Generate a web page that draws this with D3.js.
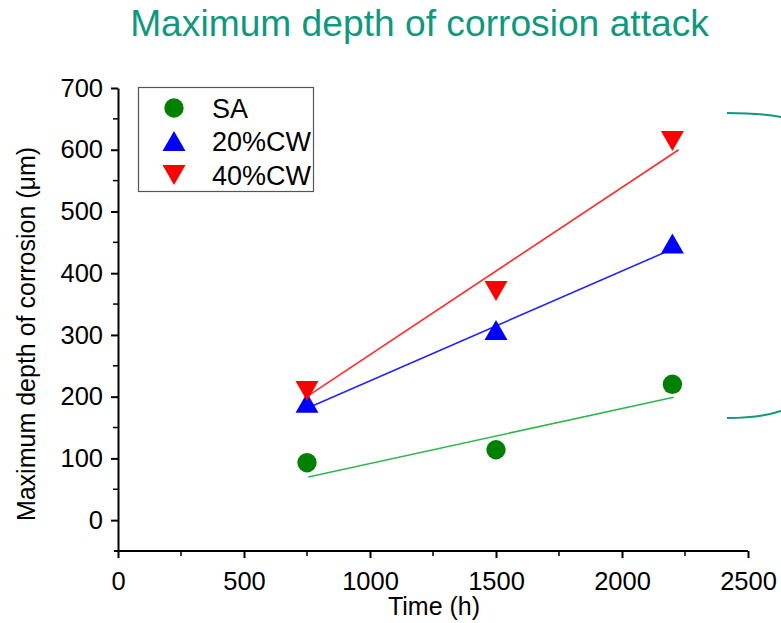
<!DOCTYPE html>
<html>
<head>
<meta charset="utf-8">
<script src="https://cdn.jsdelivr.net/npm/d3@7"></script>
<style>
  html, body { margin: 0; padding: 0; background: #ffffff; }
  svg { display: block; font-family: Arial, "Liberation Sans", sans-serif; }
</style>
</head>
<body>
<svg id="chart" width="781" height="623"></svg>
<script>
// Exposure times (h)
const times = [750, 1500, 2200];

// Measured maximum corrosion depth (µm) per material condition
const saDepth = [93, 114, 220];
const cw20Depth = [190, 308, 448];
const cw40Depth = [209, 371, 614];

// Linear trend lines: [startTime, endTime] and [startDepth, endDepth]
const saFitTime = [755, 2205];
const saFitDepth = [70, 199];
const cw20FitTime = [755, 2205];
const cw20FitDepth = [182, 440];
const cw40FitTime = [760, 2225];
const cw40FitDepth = [203, 600];

// Axis ticks
const xTicks = [0, 500, 1000, 1500, 2000, 2500];
const yTicks = [0, 100, 200, 300, 400, 500, 600, 700];

const seriesNames = ["SA", "20%CW", "40%CW"];

const svg = d3.select("#chart");
const teal = "#10987f";

const x = d3.scaleLinear().domain([0, 2500]).range([118, 748]);
const y = d3.scaleLinear().domain([-50, 700]).range([551, 88]);

// Title
svg.append("text")
  .attr("x", 419.5).attr("y", 36)
  .attr("text-anchor", "middle")
  .attr("fill", teal)
  .attr("font-size", 37.2)
  .text("Maximum depth of corrosion attack");

// Decorative bracket arcs on the right edge
svg.append("path")
  .attr("d", "M727,113 Q760,113 781,117")
  .attr("fill", "none").attr("stroke", teal).attr("stroke-width", 2);
svg.append("path")
  .attr("d", "M727,418 Q760,418 781,411")
  .attr("fill", "none").attr("stroke", teal).attr("stroke-width", 2);

// Axes
const fmt = d3.format("d");
const xAxis = d3.axisBottom(x).tickValues(xTicks).tickFormat(fmt)
  .tickSize(7).tickPadding(13.5).tickSizeOuter(0);
const yAxis = d3.axisLeft(y).tickValues(yTicks).tickFormat(fmt)
  .tickSize(7).tickPadding(8).tickSizeOuter(0);

const gx = svg.append("g").attr("transform", `translate(0,${y(-50)})`).call(xAxis);
const gy = svg.append("g").attr("transform", `translate(${x(0)},0)`).call(yAxis);

[gx, gy].forEach(g => {
  g.select(".domain").attr("stroke", "#000").attr("stroke-width", 2);
  g.selectAll(".tick line").attr("stroke", "#000").attr("stroke-width", 2);
  g.selectAll(".tick text").attr("fill", "#000").attr("font-size", 25.5)
    .attr("font-family", "Arial, 'Liberation Sans', sans-serif");
});
gx.select(".domain").attr("d", `M${x(0) - 4},0H${x(2500)}`);

// Minor ticks
const xMinor = d3.range(250, 2500, 500);
const yMinor = d3.range(-50, 700, 100).filter(v => v > -50);
svg.append("g").selectAll("line").data(xMinor).join("line")
  .attr("x1", d => x(d)).attr("x2", d => x(d))
  .attr("y1", y(-50)).attr("y2", y(-50) + 5)
  .attr("stroke", "#000").attr("stroke-width", 1.5);
svg.append("g").selectAll("line").data(yMinor).join("line")
  .attr("x1", x(0) - 5).attr("x2", x(0))
  .attr("y1", d => y(d)).attr("y2", d => y(d))
  .attr("stroke", "#000").attr("stroke-width", 1.5);

// Axis titles
svg.append("text")
  .attr("x", 434).attr("y", 615)
  .attr("text-anchor", "middle").attr("font-size", 25)
  .text("Time (h)");
svg.append("text")
  .attr("transform", `translate(35,${334}) rotate(-90)`)
  .attr("text-anchor", "middle").attr("font-size", 25)
  .text("Maximum depth of corrosion (\u03bcm)");

// Trend lines
const fits = [
  { t: saFitTime, d: saFitDepth, color: "#2fb84f" },
  { t: cw20FitTime, d: cw20FitDepth, color: "#2323ff" },
  { t: cw40FitTime, d: cw40FitDepth, color: "#ff2a2a" }
];
svg.append("g").selectAll("line").data(fits).join("line")
  .attr("x1", f => x(f.t[0])).attr("y1", f => y(f.d[0]))
  .attr("x2", f => x(f.t[1])).attr("y2", f => y(f.d[1]))
  .attr("stroke", f => f.color).attr("stroke-width", 1.6);

// Markers
function downTri(cx, cy) { return `M${cx - 11.5},${cy - 10}L${cx + 11.5},${cy - 10}L${cx},${cy + 10}Z`; }
function upTri(cx, cy) { return `M${cx - 11.5},${cy + 10}L${cx + 11.5},${cy + 10}L${cx},${cy - 10}Z`; }

svg.append("g").selectAll("circle").data(times.map((t, i) => [t, saDepth[i]])).join("circle")
  .attr("cx", d => x(d[0])).attr("cy", d => y(d[1])).attr("r", 9.7)
  .attr("fill", "#008000");
svg.append("g").selectAll("path").data(times.map((t, i) => [t, cw20Depth[i]])).join("path")
  .attr("d", d => upTri(x(d[0]), y(d[1])))
  .attr("fill", "#0000ff");
svg.append("g").selectAll("path").data(times.map((t, i) => [t, cw40Depth[i]])).join("path")
  .attr("d", d => downTri(x(d[0]), y(d[1])))
  .attr("fill", "#ff0000");

// Legend
const lg = svg.append("g");
lg.append("rect").attr("x", 138.5).attr("y", 87.5).attr("width", 175).attr("height", 104)
  .attr("fill", "#fff").attr("stroke", "#555").attr("stroke-width", 1.2);
const rowsY = [108, 141, 175];
lg.append("circle").attr("cx", 174).attr("cy", rowsY[0]).attr("r", 9.7).attr("fill", "#008000");
lg.append("path").attr("d", upTri(174, rowsY[1])).attr("fill", "#0000ff");
lg.append("path").attr("d", downTri(174, rowsY[2])).attr("fill", "#ff0000");
lg.selectAll("text.lbl").data(seriesNames).join("text")
  .attr("class", "lbl")
  .attr("x", 212).attr("y", (d, i) => rowsY[i] + 9.5)
  .attr("font-size", 27)
  .text(d => d);
</script>
</body>
</html>
